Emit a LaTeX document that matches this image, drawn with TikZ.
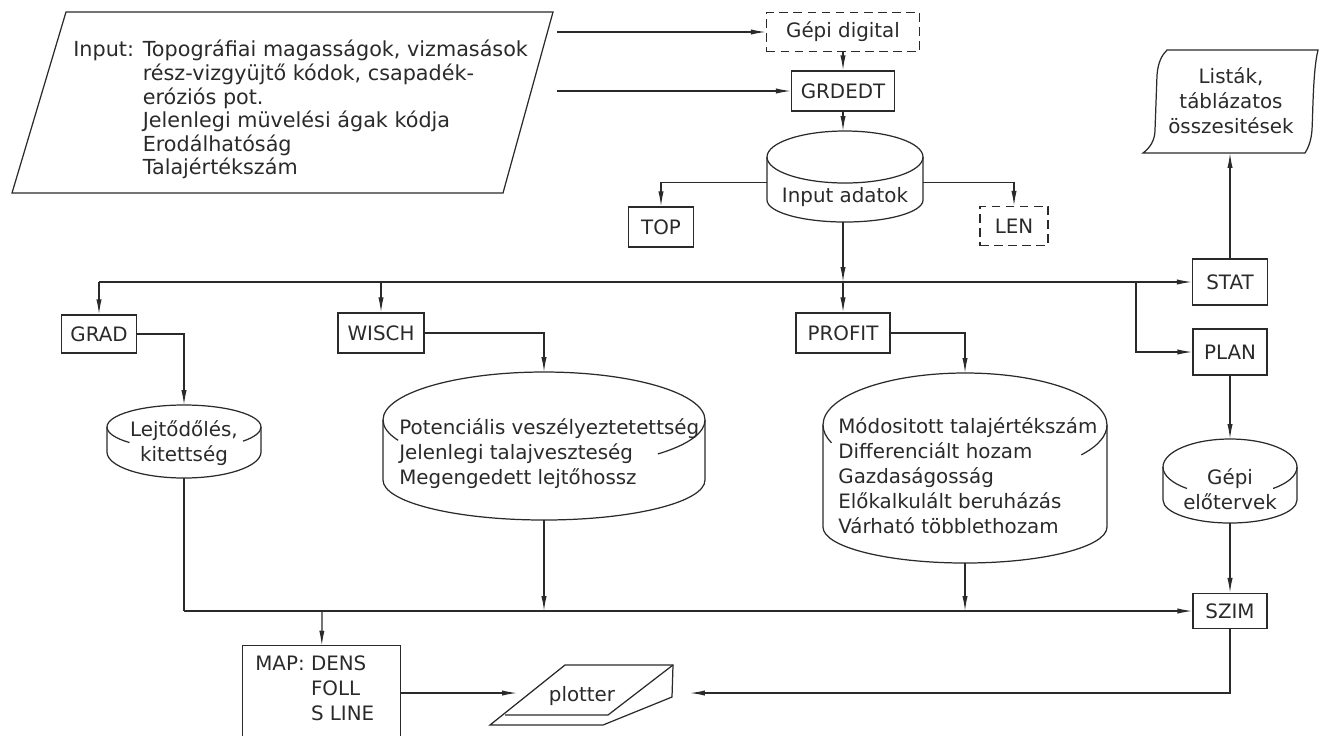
\documentclass[tikz,border=0pt]{standalone}
\usepackage{fontspec}
\setmainfont{DejaVu Sans}
\usetikzlibrary{arrows.meta}
\definecolor{ink}{HTML}{2A2A2A}
\tikzset{
  wire/.style = {draw=ink, line width=0.7pt},
  arr/.style  = {wire, -{Latex[length=8.5pt,width=3pt]}},
  box/.style  = {wire, rectangle, inner sep=0pt, text=ink},
  dbox/.style = {box, dash pattern=on 5pt off 3pt},
  txt/.style  = {inner sep=0pt, text=ink, align=left},
  every node/.style = {font=\fontsize{11.3}{14.2}\selectfont}
}
% drum: name, cx, y top centre, y bottom centre, rx, ry top, ry bottom, left gap, right gap
\newcommand{\drum}[9]{%
  \draw[wire] (#2-#5,#3) arc[start angle=180,end angle=0,x radius=#5*0.02cm,y radius=#6*0.02cm]
    -- (#2+#5,#4) arc[start angle=0,end angle=-180,x radius=#5*0.02cm,y radius=#7*0.02cm] -- cycle;
  \draw[wire] (#2-#5,#3) arc[start angle=180,end angle=180+#8,x radius=#5*0.02cm,y radius=#6*0.02cm];
  \draw[wire] (#2+#5,#3) arc[start angle=0,end angle=-#9,x radius=#5*0.02cm,y radius=#6*0.02cm];
  \coordinate (#1-t) at (#2,#3-#6);
  \coordinate (#1-b) at (#2,#4+#7);
  \coordinate (#1-l) at (#2-#5,0.4*#3+0.6*#4);
  \coordinate (#1-r) at (#2+#5,0.4*#3+0.6*#4);
}

\begin{document}
\begin{tikzpicture}[x=0.02cm,y=-0.02cm]
  \useasboundingbox (0,0) rectangle (1321,735);

  % Input card
  \draw[wire] (66,12) -- (553,12) -- (503,193) -- (12,193) -- cycle;
  \node[txt, anchor=north west, font=\fontsize{11.8}{13.4}\selectfont] (inp) at (73,40)
    {Input: Topográfiai magasságok, vizmasások\\
     \phantom{Input: }rész-vizgyüjtő kódok, csapadék-\\
     \phantom{Input: }eróziós pot.\\
     \phantom{Input: }Jelenlegi müvelési ágak kódja\\
     \phantom{Input: }Erodálhatóság\\
     \phantom{Input: }Talajértékszám};
  \coordinate (in1) at (557,32);
  \coordinate (in2) at (557,91);

  % Top row
  \node[dbox, minimum width=3.06cm, minimum height=0.78cm] (gepid) at (843,32) {Gépi digital};
  \node[box, minimum width=2.06cm, minimum height=0.8cm] (grdedt) at (843,91) {GRDEDT};
  \drum{adat}{845}{157}{200}{78}{26}{22}{90}{90}
  \node[txt] (adattxt) at (845,197) {Input adatok};
  \node[box, minimum width=1.3cm, minimum height=0.8cm] (topbox) at (661,227) {TOP};
  \node[dbox, minimum width=1.36cm, minimum height=0.78cm] (lenbox) at (1014,226) {LEN};

  % Listak
  \draw[wire] (1167,50) -- (1318,50) .. controls (1313,70) and (1313,110) .. (1312,130)
    .. controls (1311,142) and (1308,148) .. (1305,153) -- (1143,153)
    .. controls (1150,148) and (1155,140) .. (1155,130) -- (1157,75)
    .. controls (1158,62) and (1162,55) .. (1167,50) -- cycle;
  \node[txt, align=center] (lista) at (1231,101) {Listák,\\táblázatos\\összesitések};
  \coordinate (lista-b) at (1230,153);

  % Programs
  \node[box, minimum width=1.5cm, minimum height=0.92cm] (stat) at (1230,282) {STAT};
  \node[box, minimum width=1.48cm, minimum height=0.92cm] (plan) at (1230,352) {PLAN};
  \node[box, minimum width=1.48cm, minimum height=0.7cm] (szim) at (1230,611) {SZIM};
  \node[box, minimum width=1.5cm, minimum height=0.76cm] (grad) at (99,334) {GRAD};
  \node[box, minimum width=1.72cm, minimum height=0.8cm] (wisch) at (381,333) {WISCH};
  \node[box, minimum width=1.88cm, minimum height=0.8cm] (profit) at (843,333) {PROFIT};

  % Result files
  \drum{lejto}{184}{427}{452}{77}{22}{26}{45}{40}
  \node[txt, align=center] (lejtotxt) at (184,443) {Lejtődőlés,\\kitettség};
  \drum{pot}{544}{420}{480}{161}{48}{40}{25}{45}
  \node[txt, anchor=west] (pottxt) at (399,454)
    {Potenciális veszélyeztetettség\\Jelenlegi talajveszteség\\Megengedett lejtőhossz};
  \drum{mod}{965}{425}{527}{142}{52}{36}{20}{35}
  \node[txt, anchor=west] (modtxt) at (838,476)
    {Módositott talajértékszám\\Differenciált hozam\\Gazdaságosság\\Előkalkulált beruházás\\Várható többlethozam};
  \drum{elo}{1230}{467}{500}{67}{28}{23}{50}{50}
  \node[txt, align=center] (elotxt) at (1230,489) {Gépi\\előtervek};

  % Output
  \node[minimum width=3.14cm, minimum height=1.8cm, inner sep=0pt] (map) at (321.5,691) {};
  \draw[wire] (map.south west) -- (map.north west) -- (map.north east) -- (map.south east);
  \node[txt, anchor=north west] (maptxt) at (255,655)
    {MAP: DENS\\\phantom{MAP: }FOLL\\\phantom{MAP: }S LINE};
  \draw[wire] (565,665) -- (673,665) -- (672,697) -- (603,725) -- (490,725) -- cycle;
  \draw[wire] (505,715) -- (608,715) -- (673,665);
  \node[txt] (plot) at (582,696) {plotter};
  \coordinate (plot-w) at (517,693);
  \coordinate (plot-e) at (690,693);

  % Connections
  \draw[arr] (in1) -- (gepid);
  \draw[arr] (in2) -- (grdedt);
  \draw[arr] (gepid) -- (grdedt);
  \draw[arr] (grdedt) -- (grdedt |- adat-t);
  \draw[arr] (adat-l) -| (topbox);
  \draw[arr] (adat-r) -| (lenbox);

  \coordinate (j1) at (99,282);
  \coordinate (j2) at (381,282);
  \coordinate (j3) at (843,282);
  \coordinate (j4) at (1136,282);
  \draw[wire] (j1) -- (j4);
  \draw[arr] (j4) -- (stat);
  \draw[arr] (j1) -- (grad);
  \draw[arr] (j2) -- (wisch);
  \draw[arr] (adat-b -| j3) -- (j3);
  \draw[arr] (j3) -- (profit);
  \draw[arr] (j4) |- (plan);
  \draw[arr] (stat) -- (lista-b);
  \draw[arr] (grad) -| (lejto-t);
  \draw[arr] (wisch) -| (pot-t);
  \draw[arr] (profit) -| (mod-t);
  \draw[arr] (plan) -- (elo-t);
  \draw[arr] (elo-b) -- (szim);

  \coordinate (k1) at (184,611);
  \coordinate (k2) at (544,611);
  \coordinate (k3) at (965,611);
  \coordinate (k4) at (322,611);
  \draw[wire] (lejto-b) -- (k1);
  \draw[arr] (k1) -- (szim);
  \draw[arr] (pot-b) -- (k2);
  \draw[arr] (mod-b) -- (k3);
  \draw[arr] (k4) -- (map);
  \draw[arr] (map.east |- plot-w) -- (plot-w);
  \draw[arr] (szim) |- (plot-e);
\end{tikzpicture}
\end{document}
